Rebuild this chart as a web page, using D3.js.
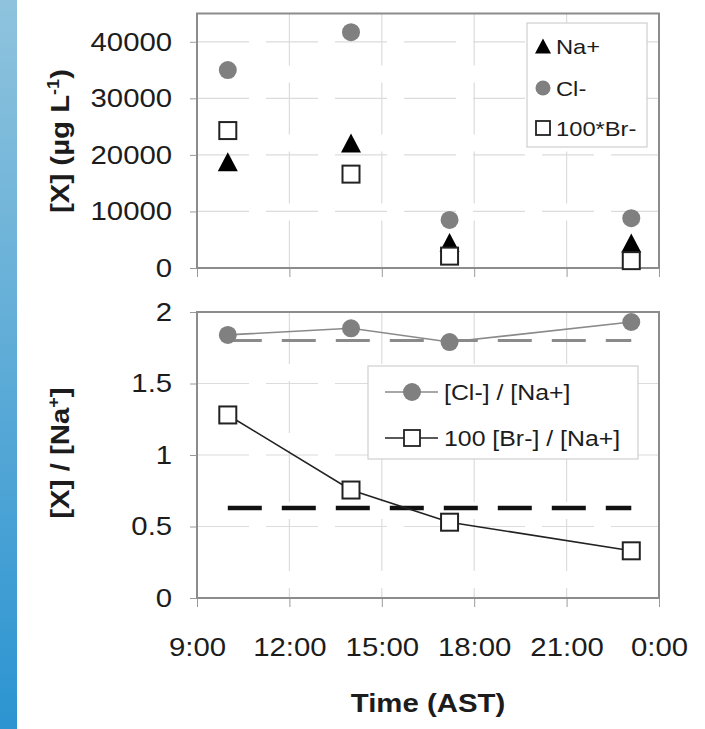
<!DOCTYPE html>
<html>
<head>
<meta charset="utf-8">
<script src="https://cdn.jsdelivr.net/npm/d3@7"></script>
<style>
  html, body { margin: 0; padding: 0; background: #fff; }
  svg { display: block; font-family: "Liberation Sans", Arial, Helvetica, sans-serif; }
</style>
</head>
<body>
<svg id="chart" width="705" height="729"></svg>
<script>
// Sampling times (AST)
const sampleTimes = ["10:00", "14:00", "17:12", "23:06"];

// Concentrations, µg per litre
const naValues = [18800, 22100, 4500, 4400];
const clValues = [35000, 41700, 8500, 8800];
const br100Values = [24300, 16600, 2100, 1300];   // 100 × [Br-]

// Ratios to sodium
const clNaRatio = [1.84, 1.886, 1.79, 1.93];
const brNaRatio = [1.28, 0.755, 0.53, 0.33];      // 100 × [Br-]/[Na+]

// Seawater reference ratios
const seawaterClNa = 1.80;
const seawaterBrNa = 0.63;

const topTicks = [0, 10000, 20000, 30000, 40000];
const bottomTicks = [0, 0.5, 1, 1.5, 2];

const svg = d3.select("#chart");
const STRETCH = 1.13;
const textColor = "#1c1c1c";

// Decorative gradient strip at the left edge
const defs = svg.append("defs");
const grad = defs.append("linearGradient").attr("id", "strip")
  .attr("x1", 0).attr("y1", 0).attr("x2", 0).attr("y2", 1);
grad.append("stop").attr("offset", "0%").attr("stop-color", "#8fc3dd");
grad.append("stop").attr("offset", "100%").attr("stop-color", "#2c94d1");
svg.append("rect").attr("x", 0).attr("y", 0).attr("width", 17).attr("height", 729)
  .attr("fill", "url(#strip)");

const parseTime = d3.timeParse("%H:%M");
const times = sampleTimes.map(t => {
  const d = parseTime(t); d.setFullYear(2000, 0, 1); return d;
});
const t0 = new Date(2000, 0, 1, 9, 0);
const t1 = new Date(2000, 0, 2, 0, 0);

const left = 197, right = 659;
const x = d3.scaleTime().domain([t0, t1]).range([left, right]);
const xTicks = x.ticks(d3.timeHour.every(3));

const yTop = d3.scaleLinear().domain([0, 45000]).range([268, 13.5]);
const yBot = d3.scaleLinear().domain([0, 2]).range([598, 312]);

function drawFrame(y, ticks, showXLabels) {
  const g = svg.append("g");
  const [yb, yt] = y.range();
  // gridlines
  g.selectAll("line.hgrid").data(ticks.slice(1)).join("line")
    .attr("x1", left).attr("x2", right)
    .attr("y1", d => y(d)).attr("y2", d => y(d))
    .attr("stroke", "#dcdcdc").attr("stroke-width", 1.2)
    .attr("stroke-dasharray", "52,17");
  g.selectAll("line.vgrid").data(xTicks.slice(1, -1)).join("line")
    .attr("x1", d => x(d)).attr("x2", d => x(d))
    .attr("y1", yt).attr("y2", yb)
    .attr("stroke", "#dcdcdc").attr("stroke-width", 1.2)
    .attr("stroke-dasharray", "52,17");

  // axes
  const yAxis = d3.axisLeft(y).tickValues(ticks).tickSize(7).tickPadding(15)
    .tickFormat(d3.format("d"));
  if (y === yBot) yAxis.tickFormat(d => d3.format("")(d));
  const ga = g.append("g").attr("transform", `translate(${left},0)`).call(yAxis);
  ga.select(".domain").remove();
  ga.selectAll(".tick line").attr("stroke", "#9a9a9a");
  ga.selectAll(".tick text").attr("font-size", 26).attr("fill", textColor)
    .attr("transform", `scale(${STRETCH},1)`);

  const xAxis = d3.axisBottom(x).tickValues(xTicks).tickSize(9).tickPadding(31)
    .tickFormat(showXLabels ? d3.timeFormat("%-H:%M") : () => "");
  const gx = g.append("g").attr("transform", `translate(0,${yb})`).call(xAxis);
  gx.select(".domain").remove();
  gx.selectAll(".tick line").attr("stroke", "#9a9a9a");
  gx.selectAll(".tick text").attr("font-size", 26).attr("fill", textColor)
    .attr("transform", `scale(${STRETCH},1)`);

  // plot box
  g.append("rect").attr("x", left).attr("y", yt)
    .attr("width", right - left).attr("height", yb - yt)
    .attr("fill", "none").attr("stroke", "#8c8c8c").attr("stroke-width", 2);
  return g;
}

function triPath(w, h) {
  return `M0,${-h / 2}L${w / 2},${h / 2}L${-w / 2},${h / 2}Z`;
}

function stretchedText(parent, tx, ty, str, size, weight, anchor, rotate) {
  const t = parent.append("text")
    .attr("transform", `translate(${tx},${ty})${rotate ? " rotate(-90)" : ""} scale(${STRETCH},1)`)
    .attr("font-size", size).attr("font-weight", weight || "normal")
    .attr("text-anchor", anchor || "start").attr("fill", textColor);
  if (typeof str === "function") str(t); else t.text(str);
  return t;
}

// ---------- Upper panel: concentrations ----------
drawFrame(yTop, topTicks, false);
const gTop = svg.append("g");

gTop.selectAll("path.na").data(naValues).join("path")
  .attr("transform", (d, i) => `translate(${x(times[i])},${yTop(d)})`)
  .attr("d", triPath(20, 19)).attr("fill", "#000");

gTop.selectAll("circle.cl").data(clValues).join("circle")
  .attr("cx", (d, i) => x(times[i])).attr("cy", d => yTop(d))
  .attr("r", 9).attr("fill", "#808080");

gTop.selectAll("rect.br").data(br100Values).join("rect")
  .attr("x", (d, i) => x(times[i]) - 8.5).attr("y", d => yTop(d) - 8.5)
  .attr("width", 17).attr("height", 17)
  .attr("fill", "#fff").attr("stroke", "#222").attr("stroke-width", 2);

// Upper legend
const lg1 = svg.append("g");
lg1.append("rect").attr("x", 527).attr("y", 23).attr("width", 120).attr("height", 124)
  .attr("fill", "#fff").attr("stroke", "#cfcfcf").attr("stroke-width", 1.2);
lg1.append("path").attr("transform", "translate(543,46)").attr("d", triPath(16, 15)).attr("fill", "#000");
lg1.append("circle").attr("cx", 543).attr("cy", 88).attr("r", 7.5).attr("fill", "#808080");
lg1.append("rect").attr("x", 536).attr("y", 121).attr("width", 14).attr("height", 14)
  .attr("fill", "#fff").attr("stroke", "#222").attr("stroke-width", 1.8);
stretchedText(lg1, 556, 54, "Na+", 21);
stretchedText(lg1, 556, 96, "Cl-", 21);
stretchedText(lg1, 556, 136, "100*Br-", 21);

// Upper y title
stretchedText(svg, 69, 141, t => {
  t.append("tspan").text("[X] (µg L");
  t.append("tspan").attr("font-size", 16).attr("dy", -10).text("-1");
  t.append("tspan").attr("dy", 10).text(")");
}, 26, "bold", "middle", true);

// ---------- Lower panel: ratios ----------
drawFrame(yBot, bottomTicks, true);
const gBot = svg.append("g");

// seawater reference ratios
gBot.append("line")
  .attr("x1", x(times[0])).attr("x2", x(times[times.length - 1]))
  .attr("y1", yBot(seawaterClNa)).attr("y2", yBot(seawaterClNa))
  .attr("stroke", "#8a8a8a").attr("stroke-width", 3).attr("stroke-dasharray", "34,20");
gBot.append("line")
  .attr("x1", x(times[0])).attr("x2", x(times[times.length - 1]))
  .attr("y1", yBot(seawaterBrNa)).attr("y2", yBot(seawaterBrNa))
  .attr("stroke", "#111").attr("stroke-width", 4.5).attr("stroke-dasharray", "34,20");

const lineCl = d3.line().x((d, i) => x(times[i])).y(d => yBot(d));
gBot.append("path").attr("d", lineCl(clNaRatio))
  .attr("fill", "none").attr("stroke", "#8a8a8a").attr("stroke-width", 1.6);
gBot.selectAll("circle.r").data(clNaRatio).join("circle")
  .attr("cx", (d, i) => x(times[i])).attr("cy", d => yBot(d))
  .attr("r", 9).attr("fill", "#808080");

gBot.append("path").attr("d", lineCl(brNaRatio))
  .attr("fill", "none").attr("stroke", "#222").attr("stroke-width", 1.6);
gBot.selectAll("rect.r").data(brNaRatio).join("rect")
  .attr("x", (d, i) => x(times[i]) - 8.5).attr("y", d => yBot(d) - 8.5)
  .attr("width", 17).attr("height", 17)
  .attr("fill", "#fff").attr("stroke", "#222").attr("stroke-width", 2);

// Lower legend
const lg2 = svg.append("g");
lg2.append("rect").attr("x", 368).attr("y", 366).attr("width", 270).attr("height", 93)
  .attr("fill", "#fff").attr("stroke", "#cfcfcf").attr("stroke-width", 1.2);
lg2.append("line").attr("x1", 385).attr("x2", 438).attr("y1", 392).attr("y2", 392)
  .attr("stroke", "#8a8a8a").attr("stroke-width", 1.6);
lg2.append("circle").attr("cx", 412).attr("cy", 392).attr("r", 9).attr("fill", "#808080");
lg2.append("line").attr("x1", 385).attr("x2", 438).attr("y1", 438).attr("y2", 438)
  .attr("stroke", "#222").attr("stroke-width", 1.6);
lg2.append("rect").attr("x", 404).attr("y", 430).attr("width", 16).attr("height", 16)
  .attr("fill", "#fff").attr("stroke", "#222").attr("stroke-width", 1.8);
stretchedText(lg2, 444, 400, "[Cl-] / [Na+]", 22);
stretchedText(lg2, 444, 446, "100 [Br-] / [Na+]", 22);

// Lower y title
stretchedText(svg, 69, 453, t => {
  t.append("tspan").text("[X] / [Na");
  t.append("tspan").attr("font-size", 16).attr("dy", -10).text("+");
  t.append("tspan").attr("dy", 10).text("]");
}, 26, "bold", "middle", true);

// x title
stretchedText(svg, 428, 712, "Time (AST)", 26, "bold", "middle");
</script>
</body>
</html>
